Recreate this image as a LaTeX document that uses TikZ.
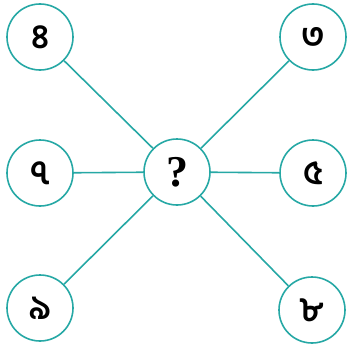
\documentclass[tikz,border=0pt]{standalone}
\usepackage{fontspec}
\newfontfamily\bnfont[Script=Bengali]{Hind Siliguri}
\newfontfamily\qfont{Liberation Serif}
\definecolor{teal1}{RGB}{38,168,165}
\begin{document}
\begin{tikzpicture}[x=1pt,y=-1pt,
  numcirc/.style={circle,draw=teal1,line width=1.6pt,minimum size=66pt,inner sep=0pt,font=\bnfont\bfseries\fontsize{34}{34}\selectfont},
  qcirc/.style={circle,draw=teal1,line width=1.6pt,minimum size=66pt,inner sep=0pt,font=\qfont\bfseries\fontsize{44}{44}\selectfont},
  link/.style={draw=teal1,line width=1.6pt}]
\useasboundingbox (0,0) rectangle (348,348);
\node[numcirc] (tl) at (40,37) {৪};
\node[numcirc] (tr) at (313,37) {৩};
\node[numcirc] (ml) at (40,173) {৭};
\node[qcirc] (c) at (177,172) {?};
\node[numcirc] (mr) at (313,173) {৫};
\node[numcirc] (bl) at (40,308) {৯};
\node[numcirc] (br) at (312,310) {৮};
\foreach \n in {tl,tr,ml,mr,bl,br} \draw[link] (c) -- (\n);
\end{tikzpicture}
\end{document}
